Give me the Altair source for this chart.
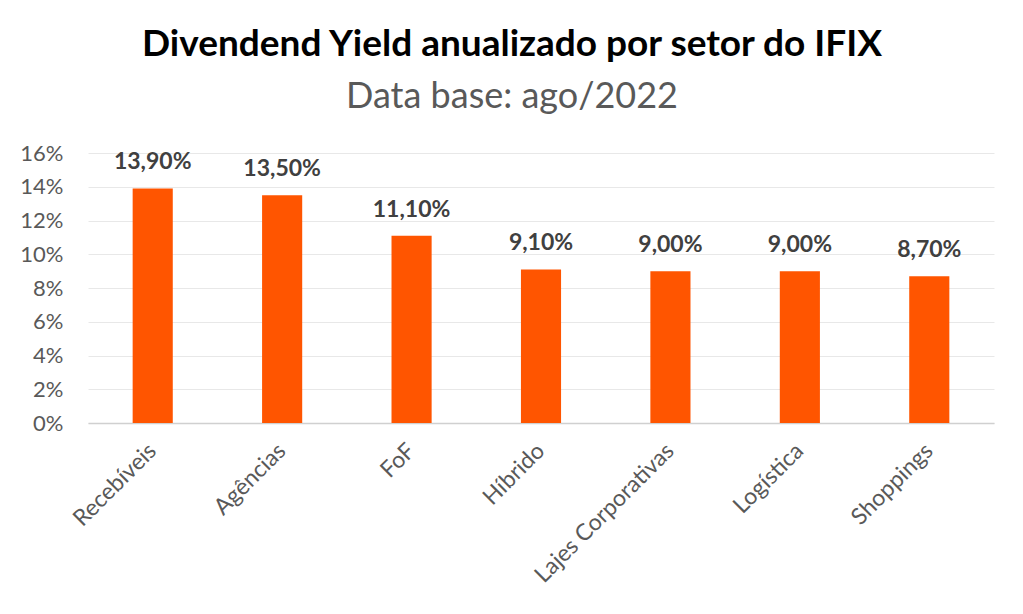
import altair as alt
import pandas as pd

setores = ["Recebíveis", "Agências", "FoF", "Híbrido", "Lajes Corporativas", "Logística", "Shoppings"]
dy_valores = [13.9, 13.5, 11.1, 9.1, 9.0, 9.0, 8.7]
y_ticks = [0, 2, 4, 6, 8, 10, 12, 14, 16]

df = pd.DataFrame({"setor": setores, "dy": dy_valores})
df["rotulo"] = [f"{v:.2f}".replace(".", ",") + "%" for v in dy_valores]

FONT = "Lato"

x = alt.X("setor:N", sort=setores, title=None,
          scale=alt.Scale(paddingInner=0.69, paddingOuter=0.345),
          axis=alt.Axis(labelAngle=-45, labelFontSize=23, labelColor="#595959",
                        labelFont=FONT, ticks=False, domainColor="#d0d0d0",
                        domainWidth=1.5, labelPadding=24, labelAlign="right",
                        labelBaseline="middle", labelOverlap=False, labelLimit=400))
y = alt.Y("dy:Q", title=None,
          scale=alt.Scale(domain=[0, 16], nice=False),
          axis=alt.Axis(values=y_ticks, labelExpr="datum.value + '%'",
                        labelFontSize=22, labelColor="#595959", labelFont=FONT,
                        ticks=False, domain=False, gridColor="#e8e8e8",
                        labelPadding=25, labelOverlap=False))

base = alt.Chart(df).encode(x=x, y=y)
bars = base.mark_bar(color="#FF5500")
labels = base.mark_text(baseline="bottom", dy=-14, fontSize=23,
                        fontWeight="bold", color="#404040", font=FONT).encode(
    text="rotulo:N")

chart = alt.layer(bars, labels).properties(
    width=906, height=270,
    autosize=alt.AutoSizeParams(type="none"),
    padding={"left": 80, "top": 145, "right": 20, "bottom": 170},
    title=alt.TitleParams(
        text="Divendend Yield anualizado por setor do IFIX",
        subtitle="Data base: ago/2022",
        fontSize=37, font=FONT, fontWeight="bold", color="#000000",
        subtitleFontSize=36, subtitleFont=FONT, subtitleColor="#595959",
        subtitlePadding=16, anchor="middle", dx=-29, offset=26),
).configure_view(stroke=None)

chart.save("out.html", embed_options={"renderer": "svg", "actions": False})
